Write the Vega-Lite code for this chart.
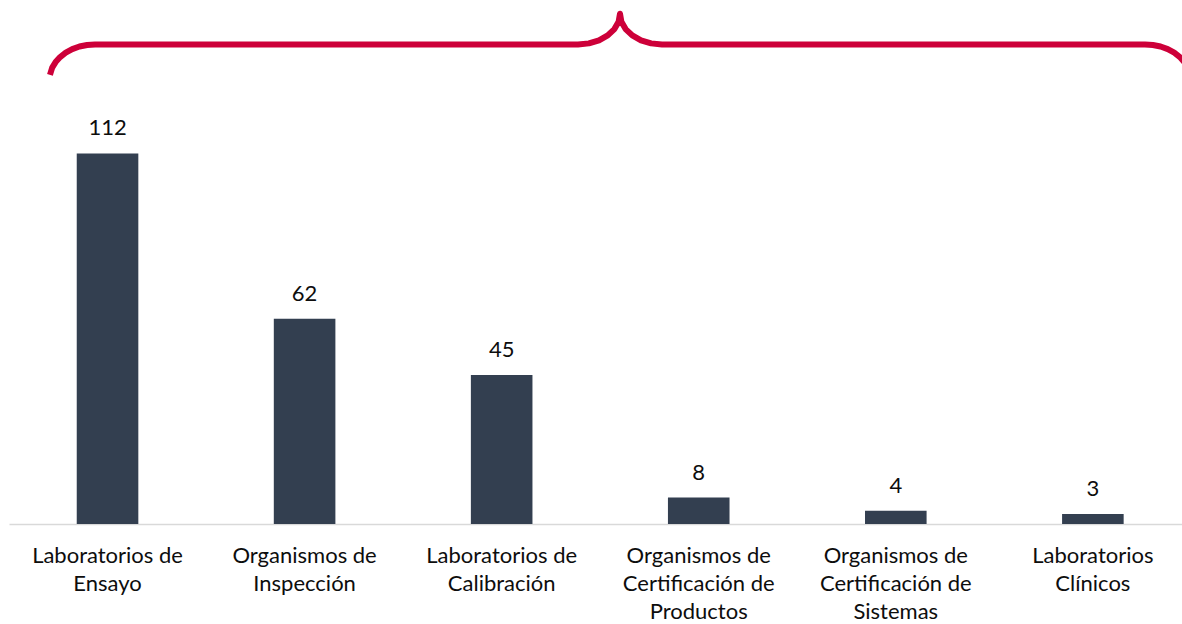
{
  "$schema": "https://vega.github.io/schema/vega-lite/v6.json",
  "width": 1173,
  "height": 519,
  "autosize": {"type": "none"},
  "padding": {"left": 9, "top": 5, "right": 0, "bottom": 100},
  "background": "white",
  "config": {"view": {"stroke": null}, "font": "Lato"},
  "datasets": {
    "counts": [
      {"tipo": "Laboratorios de Ensayo", "n": 112},
      {"tipo": "Organismos de Inspección", "n": 62},
      {"tipo": "Laboratorios de Calibración", "n": 45},
      {"tipo": "Organismos de Certificación de Productos", "n": 8},
      {"tipo": "Organismos de Certificación de Sistemas", "n": 4},
      {"tipo": "Laboratorios Clínicos", "n": 3}
    ],
    "brace": [
      {"bx": 40.95, "by": 135.75},
      {"bx": 43.2, "by": 137.93},
      {"bx": 46.6, "by": 139.6},
      {"bx": 51.15, "by": 141.13},
      {"bx": 56.75, "by": 142.44},
      {"bx": 63.25, "by": 143.51},
      {"bx": 70.44, "by": 144.3},
      {"bx": 78.1, "by": 144.78},
      {"bx": 86, "by": 144.94},
      {"bx": 569, "by": 144.94},
      {"bx": 579.9, "by": 145.25},
      {"bx": 590, "by": 146.18},
      {"bx": 598.7, "by": 147.66},
      {"bx": 605.4, "by": 149.58},
      {"bx": 609.6, "by": 151.81},
      {"bx": 611, "by": 154.21},
      {"bx": 612.4, "by": 151.81},
      {"bx": 616.6, "by": 149.58},
      {"bx": 623.3, "by": 147.66},
      {"bx": 632, "by": 146.18},
      {"bx": 642.1, "by": 145.25},
      {"bx": 653, "by": 144.94},
      {"bx": 1136, "by": 144.94},
      {"bx": 1143.9, "by": 144.78},
      {"bx": 1151.56, "by": 144.3},
      {"bx": 1158.75, "by": 143.51},
      {"bx": 1165.25, "by": 142.44},
      {"bx": 1170.85, "by": 141.13},
      {"bx": 1175.4, "by": 139.6},
      {"bx": 1178.8, "by": 137.93},
      {"bx": 1181.05, "by": 135.75}
    ]
  },
  "layer": [
    {
      "data": {"name": "counts"},
      "encoding": {
        "x": {
          "field": "tipo",
          "type": "nominal",
          "sort": null,
          "scale": {"range": [0, 1182.4], "paddingInner": 0.6875, "paddingOuter": 0.34375},
          "axis": {
            "title": null,
            "labelAngle": 0,
            "ticks": false,
            "tickSize": 0,
            "domainColor": "#D9D9D9",
            "domainWidth": 1.5,
            "labelFont": "Lato",
            "labelFontSize": 22,
            "labelColor": "#0D0D0D",
            "labelLineHeight": 28,
            "labelPadding": 21,
            "labelLimit": 0,
            "labelExpr": "split(replace(replace(datum.label, regexp(' de ', 'g'), ' de|'), 'Laboratorios Clínicos', 'Laboratorios|Clínicos'), '|')"
          }
        },
        "y": {
          "field": "n",
          "type": "quantitative",
          "scale": {"domain": [0, 156.85], "nice": false, "zero": true},
          "axis": null
        }
      },
      "layer": [
        {"mark": {"type": "bar", "color": "#333F50"}},
        {
          "mark": {"type": "text", "baseline": "alphabetic", "dy": -18, "fontSize": 22, "font": "Lato", "color": "#0D0D0D"},
          "encoding": {"text": {"field": "n", "type": "quantitative"}}
        }
      ]
    },
    {
      "data": {"name": "brace"},
      "mark": {"type": "line", "color": "#CD0039", "strokeWidth": 6, "strokeCap": "butt", "strokeJoin": "round"},
      "encoding": {
        "x": {"field": "bx", "type": "quantitative", "scale": {"domain": [0, 1182], "range": [0, 1182], "nice": false, "zero": false}, "axis": null},
        "y": {"field": "by", "type": "quantitative", "scale": {"domain": [0, 156.85], "nice": false, "zero": true}, "axis": null}
      }
    }
  ],
  "resolve": {"scale": {"x": "independent"}}
}
